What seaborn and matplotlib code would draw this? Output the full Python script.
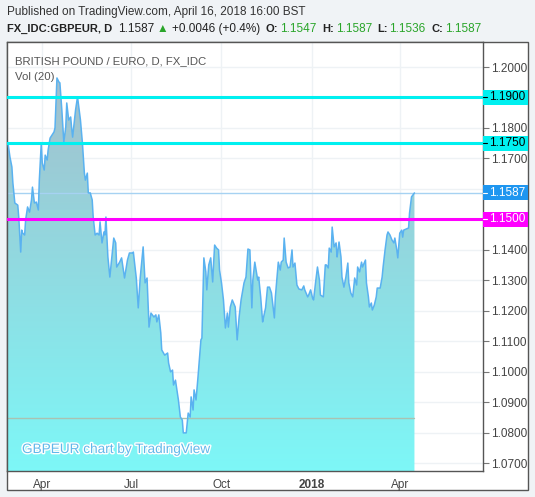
import numpy as np
import pandas as pd
import matplotlib
matplotlib.use("Agg")
import matplotlib.pyplot as plt
import matplotlib.dates as mdates
import matplotlib.patheffects as pe
from matplotlib.patches import Rectangle
from matplotlib.transforms import blended_transform_factory
import seaborn as sns

# ---- data (days counted from 2017-04-01) ----
days = [-35, -33, -31, -30, -28, -25, -24, -22, -21, -20, -18, -17, -15, -13, -11, -10,
        -8, -6, -4, -3, -1, 0, 2, 3, 5, 6, 8, 10, 12, 13, 14, 15, 17, 18, 20, 22, 24, 25,
        27, 29, 30, 31, 34, 36, 39, 41, 43, 44, 46, 47, 49, 51, 52, 54, 56, 58, 59, 61,
        63, 64, 65, 67, 69, 71, 73, 75, 76, 79, 81, 84, 87, 89, 92, 93, 96, 98, 100, 103,
        105, 107, 109, 111, 114, 116, 117, 119, 121, 122, 125, 128, 129, 131, 133, 134,
        136, 138, 139, 141, 143, 144, 147, 149, 151, 152, 154, 155, 157, 159, 162, 163,
        165, 167, 168, 170, 172, 174, 175, 176, 178, 180, 181, 183, 185, 187, 189, 190,
        192, 194, 197, 199, 201, 203, 206, 208, 210, 212, 214, 215, 217, 220, 221, 223,
        225, 226, 228, 230, 232, 234, 237, 238, 241, 243, 244, 246, 247, 249, 251, 253,
        255, 256, 258, 260, 262, 265, 267, 268, 271, 272, 274, 276, 277, 279, 281, 283,
        284, 287, 289, 290, 292, 293, 295, 296, 298, 300, 301, 302, 303, 305, 306, 308,
        310, 312, 313, 315, 317, 319, 321, 322, 324, 326, 327, 330, 331, 333, 334, 336,
        337, 339, 341, 342, 345, 347, 348, 350, 352, 353, 355, 357, 359, 360, 362, 363,
        365, 367, 368, 369, 372, 374, 375, 376, 377, 380]
price = [1.1751, 1.1705, 1.1672, 1.1620, 1.1554, 1.1547, 1.1508, 1.1393, 1.1465, 1.1455,
         1.1449, 1.1498, 1.1541, 1.1524, 1.1564, 1.1606, 1.1554, 1.1557, 1.1531, 1.1629,
         1.1751, 1.1685, 1.1662, 1.1711, 1.1695, 1.1728, 1.1767, 1.1777, 1.1787, 1.1800,
         1.1882, 1.1964, 1.1951, 1.1948, 1.1859, 1.1754, 1.1803, 1.1882, 1.1826, 1.1836,
         1.1800, 1.1770, 1.1859, 1.1902, 1.1826, 1.1751, 1.1652, 1.1629, 1.1652, 1.1587,
         1.1587, 1.1564, 1.1508, 1.1449, 1.1455, 1.1449, 1.1492, 1.1423, 1.1459, 1.1449,
         1.1508, 1.1377, 1.1311, 1.1374, 1.1439, 1.1423, 1.1344, 1.1360, 1.1374, 1.1308,
         1.1367, 1.1390, 1.1390, 1.1393, 1.1308, 1.1210, 1.1308, 1.1410, 1.1292, 1.1308,
         1.1147, 1.1193, 1.1180, 1.1187, 1.1164, 1.1187, 1.1128, 1.1072, 1.1055, 1.1062,
         1.1029, 1.1000, 1.1006, 1.0957, 1.0973, 1.0931, 1.0908, 1.0852, 1.0842, 1.0800,
         1.0800, 1.0865, 1.0852, 1.0918, 1.0875, 1.0941, 1.0908, 1.0983, 1.1105, 1.1111,
         1.1374, 1.1328, 1.1269, 1.1351, 1.1374, 1.1295, 1.1360, 1.1416, 1.1406, 1.1400,
         1.1334, 1.1292, 1.1236, 1.1144, 1.1193, 1.1147, 1.1213, 1.1236, 1.1213, 1.1105,
         1.1180, 1.1236, 1.1292, 1.1311, 1.1403, 1.1400, 1.1210, 1.1301, 1.1360, 1.1301,
         1.1311, 1.1246, 1.1164, 1.1180, 1.1210, 1.1278, 1.1278, 1.1259, 1.1177, 1.1246,
         1.1360, 1.1334, 1.1360, 1.1367, 1.1439, 1.1360, 1.1341, 1.1344, 1.1400, 1.1344,
         1.1357, 1.1285, 1.1272, 1.1269, 1.1282, 1.1269, 1.1246, 1.1252, 1.1269, 1.1242,
         1.1236, 1.1292, 1.1344, 1.1301, 1.1252, 1.1246, 1.1351, 1.1351, 1.1341, 1.1406,
         1.1393, 1.1475, 1.1410, 1.1423, 1.1377, 1.1400, 1.1426, 1.1377, 1.1311, 1.1278,
         1.1311, 1.1357, 1.1292, 1.1259, 1.1246, 1.1308, 1.1285, 1.1344, 1.1328, 1.1360,
         1.1344, 1.1367, 1.1292, 1.1246, 1.1213, 1.1226, 1.1203, 1.1219, 1.1246, 1.1275,
         1.1275, 1.1311, 1.1344, 1.1400, 1.1449, 1.1459, 1.1449, 1.1433, 1.1423, 1.1439,
         1.1400, 1.1374, 1.1455, 1.1465, 1.1442, 1.1465, 1.1469, 1.1472, 1.1521, 1.1547,
         1.1574, 1.1587]

cyan_levels = [1.1900, 1.1750]
magenta_level = 1.1500
last_price = 1.1587
low_level = 1.0850

tick_dates = ["2017-04-01", "2017-07-01", "2017-10-01", "2018-01-01", "2018-04-01"]
tick_names = ["Apr", "Jul", "Oct", "2018", "Apr"]
y_ticks = [1.07, 1.08, 1.09, 1.10, 1.11, 1.12, 1.13, 1.14, 1.17, 1.18, 1.20]

header = "Published on TradingView.com, April 16, 2018 16:00 BST"
quote_parts = [("FX_IDC:GBPEUR, D", "bold", "#222222", 7),
               ("1.1587", "normal", "#222222", 118),
               ("\u25b2", "normal", "#2aa52a", 157),
               ("+0.0046 (+0.4%)", "normal", "#222222", 172),
               ("O:", "bold", "#222222", 266), ("1.1547", "normal", "#2aa52a", 280),
               ("H:", "bold", "#222222", 322), ("1.1587", "normal", "#2aa52a", 336),
               ("L:", "bold", "#222222", 377), ("1.1536", "normal", "#2aa52a", 389),
               ("C:", "bold", "#222222", 431), ("1.1587", "normal", "#2aa52a", 445)]

df = pd.DataFrame({"date": pd.Timestamp("2017-04-01") + pd.to_timedelta(days, unit="D"),
                   "price": price})

# ---- figure ----
sns.set_style("white")
plt.rcParams["font.family"] = ["Liberation Sans", "DejaVu Sans"]

W, H = 535, 497
fig = plt.figure(figsize=(W / 100, H / 100), dpi=100, facecolor="#f0f3f6")

# white chart box (behind the axes)
fig.patches.append(Rectangle((7 / W, (H - 490) / H), (528 - 7) / W, (490 - 42) / H,
                             transform=fig.transFigure, facecolor="white",
                             edgecolor="#555555", lw=1, zorder=-5))

ax = fig.add_axes([7 / W, (H - 471) / H, (483 - 7) / W, (471 - 42) / H])
ax.set_facecolor("white")

x0 = mdates.date2num(pd.Timestamp("2017-04-01") + pd.Timedelta(days=-36))
x1 = mdates.date2num(pd.Timestamp("2018-06-25"))
ymin, ymax = 1.0675, 1.2082

# grid
for v in np.arange(1.07, 1.205, 0.01):
    ax.axhline(v, color="#eef2f5", lw=1, zorder=0)
for d in tick_dates:
    ax.axvline(mdates.date2num(pd.Timestamp(d)), color="#eef2f5", lw=1, zorder=0)

# gradient area
xd = mdates.date2num(df["date"])
poly = ax.fill_between(xd, df["price"], ymin, facecolor="none", edgecolor="none")
top = np.array([0.64, 0.75, 0.80])
bot = np.array([0.49, 0.97, 0.97])
t = np.linspace(0, 1, 256)[:, None]
grad = (top * (1 - t) + bot * t)[:, None, :]
im = ax.imshow(grad, extent=[xd[0], xd[-1], ymin, max(price)], aspect="auto",
               origin="upper", zorder=1)
im.set_clip_path(poly.get_paths()[0], transform=ax.transData)

sns.lineplot(data=df, x="date", y="price", ax=ax, color="#5ab2f0", lw=1.1, zorder=3)
ax.set_xlim(x0, x1)
ax.set_ylim(ymin, ymax)

ax.plot([xd[0], xd[-1]], [low_level, low_level], color="#a9c2b2", lw=1, zorder=2)
ax.axhline(last_price, color="#a6d2f2", lw=1, zorder=2)
for lv in cyan_levels:
    ax.axhline(lv, color="#00f0f0", lw=2.2, zorder=4)
ax.axhline(magenta_level, color="#ff00ff", lw=2.2, zorder=4)

# axes styling
for s in ax.spines.values():
    s.set_color("#555555")
    s.set_linewidth(1)
ax.yaxis.tick_right()
ax.set_yticks(y_ticks)
ax.set_yticklabels([f"{v:.4f}" for v in y_ticks])
ax.tick_params(axis="y", direction="out", length=4, width=0.8, color="#777777",
               labelsize=8.5, labelcolor="#444444", pad=2)
ax.set_xticks([mdates.date2num(pd.Timestamp(d)) for d in tick_dates])
ax.set_xticklabels(tick_names)
ax.tick_params(axis="x", direction="out", length=4, width=0.8, color="#777777",
               labelsize=8.5, labelcolor="#444444", pad=2)
for lab in ax.get_xticklabels():
    if lab.get_text() == "2018":
        lab.set_fontweight("bold")
ax.set_xlabel("")
ax.set_ylabel("")

# price labels on the right scale
tr = blended_transform_factory(ax.transAxes, ax.transData)
bw = (528 - 483) / (483 - 7)
bh = 15 * (ymax - ymin) / (471 - 42)
badges = [(cyan_levels[0], "#00f0f0", "black"), (cyan_levels[1], "#00f0f0", "black"),
          (last_price, "#1e96f0", "white"), (magenta_level, "#ff00ff", "white")]
for lv, bg, fg in badges:
    ax.add_patch(Rectangle((1.0, lv - bh / 2), bw, bh, transform=tr, facecolor=bg,
                           edgecolor="none", clip_on=False, zorder=5))
    ax.plot([1.0, 1.0 + 4 / 476], [lv, lv], transform=tr, color=fg, lw=0.8,
            clip_on=False, zorder=6)
    ax.text(1.0 + 6 / 476, lv, f"{lv:.4f}", transform=tr, ha="left", va="center",
            fontsize=8.5, color=fg, zorder=6, clip_on=False)

# texts in the plot
ax.text(8 / 476, 1 - (61 - 42) / 429, "BRITISH POUND / EURO, D, FX_IDC",
        transform=ax.transAxes, fontsize=8.2, color="#555555", va="center", zorder=6)
ax.text(8 / 476, 1 - (77 - 42) / 429, "Vol (20)", transform=ax.transAxes,
        fontsize=8.2, color="#555555", va="center", zorder=6)
ax.text(15 / 476, 1 - (449 - 42) / 429, "GBPEUR chart by TradingView",
        transform=ax.transAxes, fontsize=9.8, color="#62b8ea", va="center", zorder=6,
        path_effects=[pe.withStroke(linewidth=2, foreground="white")])

# header lines
fig.text(7 / W, 1 - 12 / H, header, fontsize=8.5, color="#333333", va="center")
for txt, wt, col, px in quote_parts:
    fig.text(px / W, 1 - 29 / H, txt, fontsize=8 if wt == "bold" else 8.5,
             fontweight=wt, color=col, va="center",
             family=["Liberation Sans", "DejaVu Sans"])

fig.savefig("out.png", dpi=100, facecolor=fig.get_facecolor())
